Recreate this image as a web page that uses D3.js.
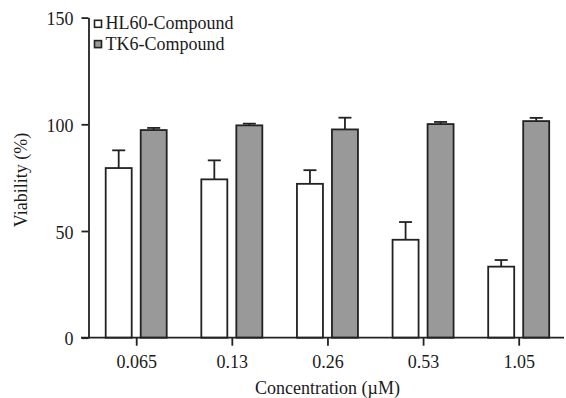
<!DOCTYPE html>
<html><head><meta charset="utf-8">
<script src="https://cdn.jsdelivr.net/npm/d3@7"></script>
<style>body{margin:0;background:#fff}svg{display:block}svg text{font-family:'Liberation Serif','Times New Roman',Times,'DejaVu Serif',serif !important;fill:#1a1a1a}</style>
</head><body>
<script>
const categories = ["0.065","0.13","0.26","0.53","1.05"];
const seriesNames = ["HL60-Compound","TK6-Compound"];
const hl60 = [79.5,74.2,72.1,45.9,33.3];
const hl60Err = [8.3,8.9,6.4,8.3,3.1];
const tk6 = [97.3,99.5,97.6,100.1,101.5];
const tk6Err = [1.0,0.8,5.5,1.0,1.5];
const yTicks = [0,50,100,150];

const W=566,H=398;
const FF="'Liberation Serif','Times New Roman',Times,serif";
const FS=18;
const svg=d3.select("body").append("svg").attr("width",W).attr("height",H).attr("font-family",FF);
const x0=88.5, yBot=337.7, yTop=17.6;
const y=d3.scaleLinear().domain([0,150]).range([yBot,yTop]);
const xc=d3.scalePoint().domain(categories).range([136.2,518.7]);
const bw=26, gap=9;
const stroke="#222", sw=1.8;

const series=[{v:hl60,e:hl60Err,fill:"#fff",off:-gap/2-bw},{v:tk6,e:tk6Err,fill:"#999",off:gap/2}];
series.forEach(s=>{
  const g=svg.append("g");
  categories.forEach((c,i)=>{
    const left=xc(c)+s.off, cx=left+bw/2;
    const top=y(s.v[i]), et=y(s.v[i]+s.e[i]);
    g.append("line").attr("x1",cx).attr("x2",cx).attr("y1",top).attr("y2",et).attr("stroke",stroke).attr("stroke-width",sw);
    g.append("line").attr("x1",cx-6.5).attr("x2",cx+6.5).attr("y1",et).attr("y2",et).attr("stroke",stroke).attr("stroke-width",sw);
    g.append("rect").attr("x",left).attr("y",top).attr("width",bw).attr("height",yBot-top)
      .attr("fill",s.fill).attr("stroke",stroke).attr("stroke-width",sw);
  });
});

const ya=svg.append("g").attr("transform",`translate(${x0},0)`)
  .call(d3.axisLeft(y).tickValues(yTicks).tickSize(7).tickPadding(8).tickSizeOuter(0));
ya.attr("font-family",FF);
ya.select(".domain").attr("stroke",stroke).attr("stroke-width",sw);
ya.selectAll(".tick line").attr("stroke",stroke).attr("stroke-width",sw);
ya.selectAll(".tick text").attr("font-size",FS).attr("dy","0.4em");

const xa=svg.append("g").attr("transform",`translate(0,${yBot})`)
  .call(d3.axisBottom(xc).tickSize(8).tickPadding(10).tickSizeOuter(0));
xa.attr("font-family",FF);
xa.select(".domain").attr("d",`M81,0H564`).attr("stroke",stroke).attr("stroke-width",sw);
xa.selectAll(".tick line").attr("stroke",stroke).attr("stroke-width",sw);
xa.selectAll(".tick text").attr("font-size",FS);

svg.append("text").attr("x",327.5).attr("y",394).attr("text-anchor","middle").attr("font-size",FS).text("Concentration (µM)");
svg.append("text").attr("transform","translate(27,180) rotate(-90)").attr("text-anchor","middle").attr("font-size",FS).text("Viability (%)");

const lg=svg.append("g");
seriesNames.forEach((n,i)=>{
  const yy=20.3+i*20.3;
  lg.append("rect").attr("x",94.5).attr("y",yy).attr("width",7).attr("height",7)
    .attr("fill",i===0?"#fff":"#999").attr("stroke",stroke).attr("stroke-width",1.6);
  lg.append("text").attr("x",105.5).attr("y",yy+9).attr("font-size",FS).text(n);
});
</script>
</body></html>
